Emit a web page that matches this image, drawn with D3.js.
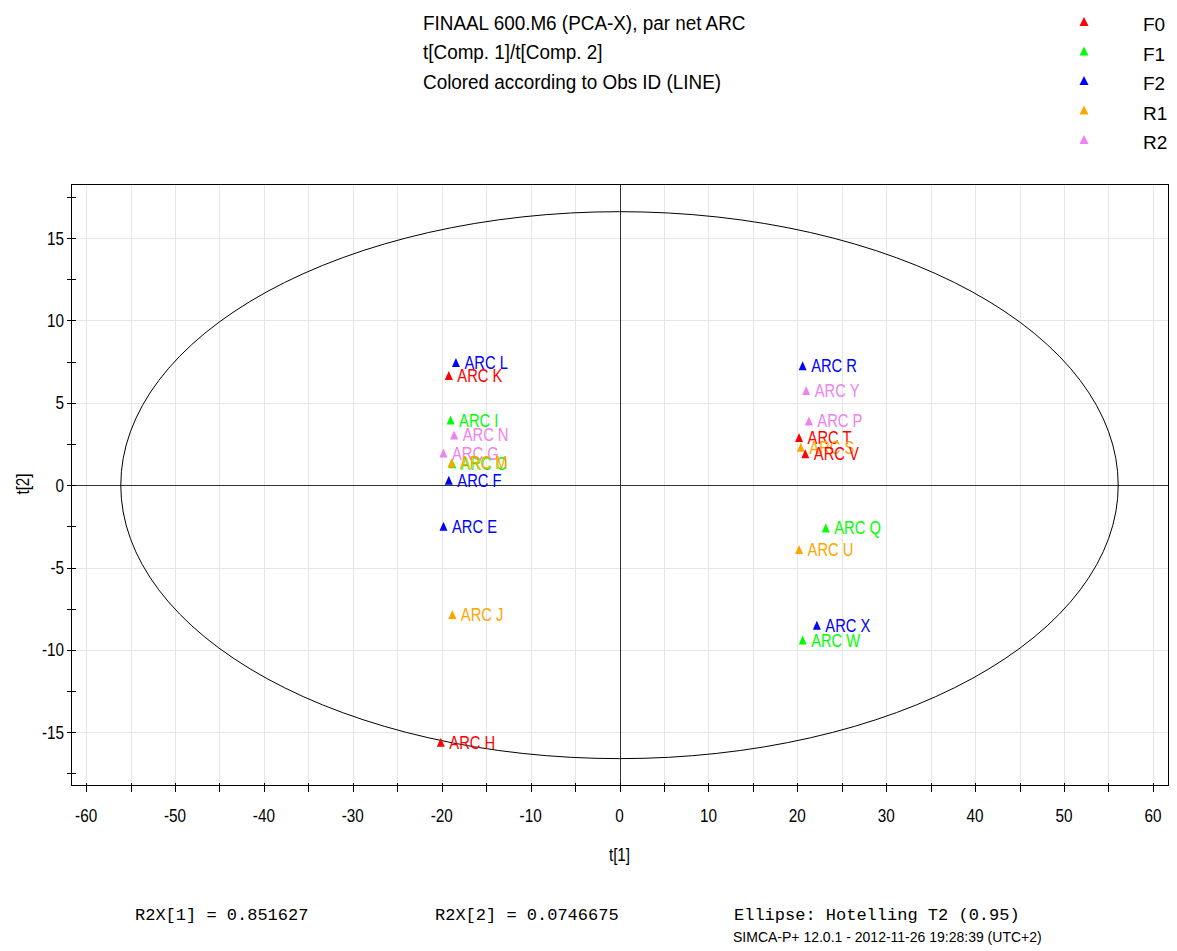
<!DOCTYPE html>
<html>
<head>
<meta charset="utf-8">
<script src="https://cdn.jsdelivr.net/npm/d3@7"></script>
<style>
  body { margin: 0; background: #fff; }
  svg { display: block; }
</style>
</head>
<body>
<svg id="chart" width="1177" height="951"></svg>
<script>
// Score plot observations (t[1], t[2]) coloured by LINE class
const obsNames = ["ARC E", "ARC F", "ARC G", "ARC H", "ARC I", "ARC J", "ARC K", "ARC L",
                  "ARC O", "ARC M", "ARC N", "ARC P", "ARC Q", "ARC R", "ARC T", "ARC S",
                  "ARC U", "ARC V", "ARC W", "ARC X", "ARC Y"];
const obsClass = ["F2", "F2", "R2", "F0", "F1", "R1", "F0", "F2",
                  "F1", "R1", "R2", "R2", "F1", "F2", "F0", "R1",
                  "R1", "F0", "F1", "F2", "R2"];
const t1Scores = [-19.8, -19.2, -19.8, -20.1, -19.0, -18.8, -19.2, -18.4,
                  -18.8, -18.9, -18.6, 21.3, 23.2, 20.6, 20.2, 20.4,
                  20.2, 20.9, 20.6, 22.2, 21.0];
const t2Scores = [-2.5, 0.3, 1.95, -15.6, 3.95, -7.85, 6.65, 7.45,
                  1.3, 1.35, 3.05, 3.9, -2.6, 7.25, 2.9, 2.3,
                  -3.9, 1.9, -9.4, -8.5, 5.75];

const classNames = ["F0", "F1", "F2", "R1", "R2"];
const classColors = ["#ff0000", "#00ff00", "#0000ff", "#ffa500", "#ee82ee"];

const xTickValues = [-60, -50, -40, -30, -20, -10, 0, 10, 20, 30, 40, 50, 60];
const yTickValues = [-15, -10, -5, 0, 5, 10, 15];

const titleLines = ["FINAAL 600.M6 (PCA-X), par net ARC",
                    "t[Comp. 1]/t[Comp. 2]",
                    "Colored according to Obs ID (LINE)"];
const xTitle = "t[1]";
const yTitle = "t[2]";
const r2xTexts = ["R2X[1] = 0.851627", "R2X[2] = 0.0746675"];
const ellipseText = "Ellipse: Hotelling T2 (0.95)";
const footerText = "SIMCA-P+ 12.0.1 - 2012-11-26 19:28:39 (UTC+2)";

// Hotelling T2 (0.95) ellipse semi-axes in score units
const ellipseT1 = 56.1;
const ellipseT2 = 16.6;

const svg = d3.select("#chart");
const SANS = "'Liberation Sans', Arial, sans-serif";
const MONO = "'Liberation Mono', 'Courier New', monospace";

const plot = { left: 71, right: 1168, top: 184, bottom: 785 };
const x = d3.scaleLinear().domain([-61.7, 61.7]).range([plot.left, plot.right]);
const y = d3.scaleLinear().domain([-18.2, 18.28]).range([plot.bottom, plot.top]);
const color = d3.scaleOrdinal().domain(classNames).range(classColors);

// Narrow sans text: glyphs are compressed horizontally around the anchor
function narrowText(parent, px, py, str, opts) {
  const o = Object.assign({ size: 18, sx: 0.85, anchor: "start", fill: "#000", rotate: 0 }, opts || {});
  const g = parent.append("g")
    .attr("transform", `translate(${px},${py}) rotate(${o.rotate}) scale(${o.sx},1)`);
  g.append("text")
    .attr("font-family", SANS)
    .attr("font-size", o.size)
    .attr("text-anchor", o.anchor)
    .attr("fill", o.fill)
    .text(str);
  return g;
}

// Triangle marker centred on a point
function triangle(cx, cy, w, h) {
  const p = d3.path();
  p.moveTo(cx, cy - h / 2);
  p.lineTo(cx + w / 2, cy + h / 2);
  p.lineTo(cx - w / 2, cy + h / 2);
  p.closePath();
  return p.toString();
}

// Grid lines every 5 units
const gridG = svg.append("g").attr("stroke", "#e6e6e6").attr("stroke-width", 1);
d3.range(-60, 61, 5).forEach(v => {
  gridG.append("line")
    .attr("x1", Math.round(x(v)) + 0.5).attr("x2", Math.round(x(v)) + 0.5)
    .attr("y1", plot.top).attr("y2", plot.bottom);
});
d3.range(-15, 16, 5).forEach(v => {
  gridG.append("line")
    .attr("x1", plot.left).attr("x2", plot.right)
    .attr("y1", Math.round(y(v)) + 0.5).attr("y2", Math.round(y(v)) + 0.5);
});

// Zero lines
svg.append("line")
  .attr("x1", plot.left).attr("x2", plot.right)
  .attr("y1", Math.round(y(0)) + 0.5).attr("y2", Math.round(y(0)) + 0.5)
  .attr("stroke", "#333").attr("stroke-width", 1);
svg.append("line")
  .attr("x1", Math.round(x(0)) + 0.5).attr("x2", Math.round(x(0)) + 0.5)
  .attr("y1", plot.top).attr("y2", plot.bottom)
  .attr("stroke", "#333").attr("stroke-width", 1);

// Hotelling ellipse
svg.append("ellipse")
  .attr("cx", x(0)).attr("cy", y(0))
  .attr("rx", x(ellipseT1) - x(0))
  .attr("ry", y(0) - y(ellipseT2))
  .attr("fill", "none").attr("stroke", "#000").attr("stroke-width", 1);

// Plot frame
svg.append("rect")
  .attr("x", plot.left + 0.5).attr("y", plot.top + 0.5)
  .attr("width", plot.right - plot.left).attr("height", plot.bottom - plot.top)
  .attr("fill", "none").attr("stroke", "#000").attr("stroke-width", 1);

// Axis tick marks
const tickG = svg.append("g").attr("stroke", "#000").attr("stroke-width", 1);
d3.range(-60, 61, 5).forEach(v => {
  const px = Math.round(x(v)) + 0.5;
  tickG.append("line").attr("x1", px).attr("x2", px)
    .attr("y1", plot.bottom - 2).attr("y2", plot.bottom + 7);
});
d3.range(-17.5, 17.6, 2.5).forEach(v => {
  const py = Math.round(y(v)) + 0.5;
  tickG.append("line").attr("x1", plot.left - 4).attr("x2", plot.left + 5)
    .attr("y1", py).attr("y2", py);
});

// Tick labels
xTickValues.forEach(v => {
  narrowText(svg, x(v), 822, String(v), { size: 18, sx: 0.85, anchor: "middle" });
});
yTickValues.forEach(v => {
  narrowText(svg, 64, y(v) + 6.5, String(v), { size: 18, sx: 0.85, anchor: "end" });
});

// Axis titles
narrowText(svg, x(0), 861, xTitle, { size: 18, sx: 0.85, anchor: "middle" });
narrowText(svg, 29, 484, yTitle, { size: 18, sx: 0.85, anchor: "middle", rotate: -90 });

// Observations
const pts = svg.append("g");
obsNames.forEach((name, i) => {
  const cx = x(t1Scores[i]);
  const cy = y(t2Scores[i]);
  const c = color(obsClass[i]);
  pts.append("path").attr("d", triangle(cx, cy, 8, 9)).attr("fill", c);
  narrowText(pts, cx + 8.5, cy + 6.5, name, { size: 18, sx: 0.82, fill: c });
});

// Title
titleLines.forEach((line, i) => {
  narrowText(svg, 423, [30, 58.5, 89][i], line, { size: 20, sx: 0.945 });
});

// Legend
classNames.forEach((cls, i) => {
  const ly = 21.5 + i * 29.5;
  svg.append("path").attr("d", triangle(1084, ly, 9, 9)).attr("fill", color(cls));
  narrowText(svg, 1143, ly + 9.5, cls, { size: 19, sx: 1 });
});

// Model statistics and footer
svg.append("text").attr("x", 135).attr("y", 920)
  .attr("font-family", MONO).attr("font-size", 17).text(r2xTexts[0]);
svg.append("text").attr("x", 435).attr("y", 920)
  .attr("font-family", MONO).attr("font-size", 17).text(r2xTexts[1]);
svg.append("text").attr("x", 734).attr("y", 920)
  .attr("font-family", MONO).attr("font-size", 17).text(ellipseText);
narrowText(svg, 733, 942, footerText, { size: 14, sx: 1 });
</script>
</body>
</html>
